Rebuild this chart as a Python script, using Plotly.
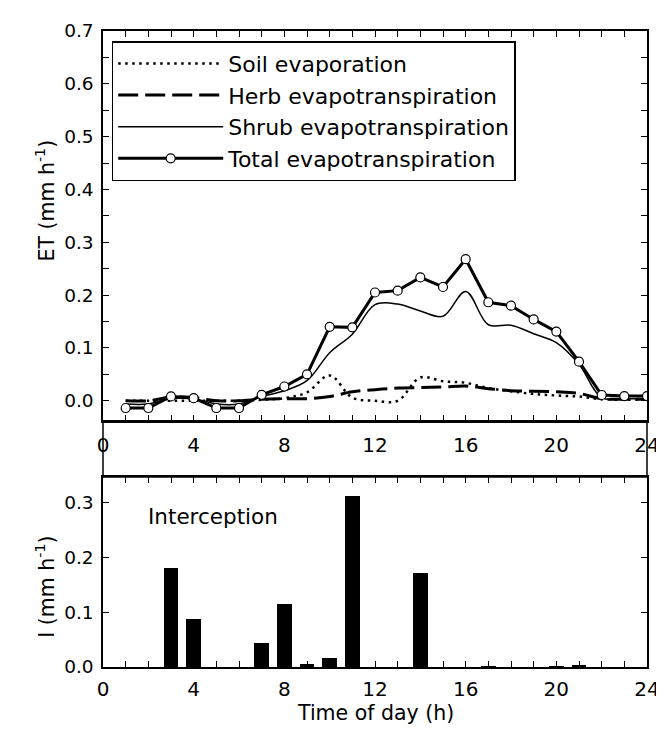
import plotly.graph_objects as go

hours = list(range(1, 25))
soil = [0.0, 0.0, 0.0, 0.0, 0.0, 0.0, 0.002, 0.005, 0.016, 0.048, 0.006, 0.0,
        0.0, 0.044, 0.037, 0.034, 0.024, 0.018, 0.013, 0.010, 0.008, 0.003, 0.002, 0.002]
herb = [0.0, 0.0, 0.007, 0.006, 0.0, 0.0, 0.003, 0.004, 0.004, 0.008, 0.017, 0.021,
        0.024, 0.025, 0.026, 0.028, 0.023, 0.019, 0.018, 0.017, 0.014, 0.004, 0.003, 0.003]
shrub = [-0.006, -0.006, 0.004, 0.004, -0.006, -0.006, 0.008, 0.019, 0.038, 0.091, 0.126, 0.182,
         0.183, 0.170, 0.160, 0.207, 0.144, 0.143, 0.127, 0.110, 0.069, 0.006, 0.004, 0.004]
total = [-0.0137, -0.0137, 0.0083, 0.005, -0.0137, -0.0137, 0.0113, 0.027, 0.050, 0.140, 0.139, 0.205,
         0.2085, 0.2336, 0.2154, 0.268, 0.1865, 0.180, 0.154, 0.131, 0.074, 0.011, 0.009, 0.009]
interception = [0.0, 0.0, 0.1816, 0.0884, 0.0, 0.0, 0.0445, 0.116, 0.0054, 0.016, 0.3127, 0.0,
                0.0, 0.171, 0.0, 0.0, 0.001, 0.0, 0.0, 0.002, 0.003, 0.0, 0.0, 0.0]

x_tickvals = list(range(0, 25))
x_ticktext = [str(v) if v % 4 == 0 else "" for v in x_tickvals]
et_tickvals = [i * 0.05 for i in range(15)]
et_ticktext = [f"{v:.1f}" if i % 2 == 0 else "" for i, v in enumerate(et_tickvals)]
i_tickvals = [0.0, 0.1, 0.2, 0.3]
i_ticktext = ["0.0", "0.1", "0.2", "0.3"]

FONT = "DejaVu Sans, Arial, sans-serif"
W, H = 664, 740
ML, MR, MT, MB = 95, 12, 20, 81
plot_h = H - MT - MB
top_dom = [(659 - 411.7) / plot_h, 1.0]
bot_dom = [0.0, (659 - 468) / plot_h]

fig = go.Figure()
fig.add_trace(go.Scatter(x=hours, y=soil, mode="lines", name="Soil evaporation",
                         line=dict(color="black", width=2.5, dash="2.5px,4.5px", shape="spline"),
                         xaxis="x", yaxis="y"))
fig.add_trace(go.Scatter(x=hours, y=herb, mode="lines", name="Herb evapotranspiration",
                         line=dict(color="black", width=3, dash="20px,7px", shape="spline"),
                         xaxis="x", yaxis="y"))
fig.add_trace(go.Scatter(x=hours, y=shrub, mode="lines", name="Shrub evapotranspiration",
                         line=dict(color="black", width=1.5, shape="spline"),
                         xaxis="x", yaxis="y"))
fig.add_trace(go.Scatter(x=hours, y=total, mode="lines+markers", name="Total evapotranspiration",
                         line=dict(color="black", width=3),
                         marker=dict(symbol="circle", size=9, color="white",
                                     line=dict(color="black", width=1.2)),
                         xaxis="x", yaxis="y"))
fig.add_trace(go.Bar(x=hours, y=interception, width=0.66, marker=dict(color="black", line=dict(width=0)),
                     showlegend=False, xaxis="x2", yaxis="y2"))

axis_common = dict(showline=True, linecolor="black", linewidth=1.5, mirror="ticks",
                   ticks="inside", ticklen=6, tickwidth=1.2, tickcolor="black",
                   showgrid=False, zeroline=False)
xfont = dict(family=FONT, size=20, color="black")
yfont = dict(family=FONT, size=18.5, color="black")

fig.update_layout(
    width=W, height=H,
    margin=dict(l=ML, r=MR, t=MT, b=MB),
    paper_bgcolor="white", plot_bgcolor="white",
    font=dict(family=FONT, color="black"),
    bargap=0,
    xaxis=dict(domain=[0, 1], range=[0, 24], anchor="y", tickmode="array",
               tickvals=x_tickvals, ticktext=x_ticktext, ticklabelstandoff=5,
               tickfont=xfont, **axis_common),
    yaxis=dict(domain=top_dom, range=[-0.038, 0.7], anchor="x", tickmode="array",
               tickvals=et_tickvals, ticktext=et_ticktext, ticklabelstandoff=4,
               tickfont=yfont, **axis_common),
    xaxis2=dict(domain=[0, 1], range=[0, 24], anchor="y2", tickmode="array",
                tickvals=x_tickvals, ticktext=x_ticktext, ticklabelstandoff=3,
                tickfont=xfont, **axis_common),
    yaxis2=dict(domain=bot_dom, range=[0, 0.347], anchor="x2", tickmode="array",
                tickvals=i_tickvals, ticktext=i_ticktext, ticklabelstandoff=4,
                tickfont=yfont, **axis_common),
    legend=dict(x=0.016, y=0.984, xref="paper", yref="paper", xanchor="left", yanchor="top",
                bordercolor="black", borderwidth=1.5, bgcolor="white",
                font=dict(family=FONT, size=22, color="black"), itemwidth=105,
                tracegroupgap=0),
    shapes=[dict(type="rect", xref="paper", yref="paper", x0=0, x1=1,
                 y0=bot_dom[1], y1=top_dom[0], line=dict(color="black", width=1.5),
                 layer="above")],
    annotations=[
        dict(text="ET (mm h<sup>-1</sup>)", xref="paper", yref="paper", x=-0.106,
             y=(659 - 190) / plot_h, textangle=-90, showarrow=False,
             xanchor="center", yanchor="middle", font=dict(family=FONT, size=20.5)),
        dict(text="I (mm h<sup>-1</sup>)", xref="paper", yref="paper", x=-0.106,
             y=(659 - 578) / plot_h, textangle=-90, showarrow=False,
             xanchor="center", yanchor="middle", font=dict(family=FONT, size=20.5)),
        dict(text="Time of day (h)", xref="paper", yref="paper", x=0.5,
             y=(659 - 705) / plot_h, showarrow=False, xanchor="center", yanchor="middle",
             font=dict(family=FONT, size=20.5)),
        dict(text="Interception", xref="x2", yref="y2", x=1.89, y=0.274, showarrow=False,
             xanchor="left", yanchor="middle", font=dict(family=FONT, size=21.5)),
    ],
)

fig.write_html("out.html")
